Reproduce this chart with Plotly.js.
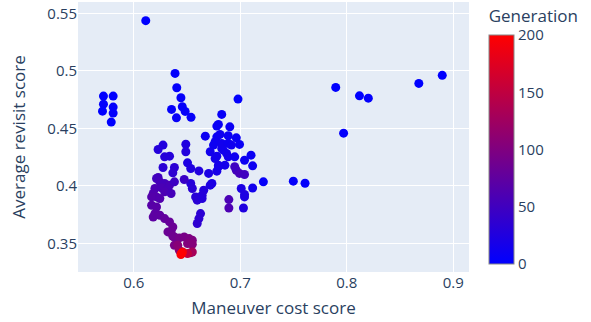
<!DOCTYPE html>
<html>
<head>
<meta charset="utf-8">
<script src="https://cdn.plot.ly/plotly-3.0.1.min.js"></script>
<style>
  html, body { margin: 0; padding: 0; background: #fff; }
  #chart { width: 591px; height: 322px; }
</style>
</head>
<body>
<div id="chart"></div>
<script>
// Candidate solutions: maneuver cost vs. average revisit, coloured by generation
const maneuverCost = [
  0.5716, 0.5716, 0.5707, 0.5807, 0.5807, 0.5807, 0.5789, 0.6113,
  0.6388, 0.6404, 0.6443, 0.6355, 0.6456, 0.6483, 0.6401, 0.6538,
  0.7896, 0.8119, 0.8202, 0.7970, 0.8676, 0.8896, 0.7498, 0.7608, 0.6979, 0.7217,
  0.6826, 0.6795, 0.6780, 0.6902, 0.6672, 0.6780, 0.6810, 0.6887, 0.6963, 0.6764,
  0.6749, 0.6826, 0.6887, 0.6917, 0.6993, 0.6718, 0.6826, 0.6841, 0.6872, 0.6887,
  0.6948, 0.7040, 0.7101, 0.6764, 0.6780, 0.6795, 0.6856, 0.7116, 0.6780, 0.6795,
  0.6734, 0.7009, 0.7040, 0.7040, 0.7116, 0.7030,
  0.6963, 0.6993, 0.7040, 0.6948, 0.6893, 0.6893,
  0.6505, 0.6535, 0.6612, 0.6703, 0.6718, 0.6535, 0.6550, 0.6657, 0.6642, 0.6581,
  0.6596, 0.6642, 0.6627, 0.6612, 0.6596,
  0.6275, 0.6229, 0.6489, 0.6489, 0.6290, 0.6336, 0.6275, 0.6382, 0.6367,
  0.6474, 0.6229, 0.6214, 0.6245, 0.6290, 0.6336, 0.6382, 0.6199, 0.6260, 0.6320,
  0.6183, 0.6290, 0.6351, 0.6214, 0.6168, 0.6245,
  0.6168, 0.6214, 0.6199, 0.6245, 0.6183, 0.6290, 0.6336, 0.6367, 0.6351, 0.6321,
  0.6382, 0.6367, 0.6382, 0.6428, 0.6474, 0.6520, 0.6550, 0.6505, 0.6550, 0.6413,
  0.6428,
  0.6535, 0.6550, 0.6505,
  0.6459, 0.6443, 0.6450
];
const revisitScore = [
  0.4781, 0.4711, 0.4650, 0.4781, 0.4685, 0.4633, 0.4555, 0.5436,
  0.4978, 0.4853, 0.4766, 0.4665, 0.4688, 0.4648, 0.4592, 0.4596,
  0.4856, 0.4783, 0.4763, 0.4459, 0.4891, 0.4961, 0.4042, 0.4024, 0.4755, 0.4036,
  0.4622, 0.4535, 0.4520, 0.4514, 0.4433, 0.4427, 0.4448, 0.4436, 0.4418, 0.4384,
  0.4355, 0.4370, 0.4370, 0.4355, 0.4361, 0.4297, 0.4326, 0.4311, 0.4283, 0.4253,
  0.4253, 0.4224, 0.4268, 0.4239, 0.4259, 0.4181, 0.4181, 0.4175, 0.4129, 0.4167,
  0.4022, 0.3978, 0.3926, 0.3905, 0.3983, 0.3809,
  0.4137, 0.4109, 0.4100, 0.4167, 0.3882, 0.3809,
  0.4201, 0.4152, 0.4131, 0.4109, 0.4007, 0.4022, 0.3978, 0.3963, 0.3920, 0.3905,
  0.3877, 0.3891, 0.3760, 0.3717, 0.3674,
  0.4355, 0.4317, 0.4363, 0.4297, 0.4253, 0.4259, 0.4161, 0.4161, 0.4114,
  0.4056, 0.4074, 0.4065, 0.4036, 0.4022, 0.4007, 0.4036, 0.3978, 0.3985, 0.3975,
  0.3935, 0.3949, 0.3935, 0.3905, 0.3905, 0.3891,
  0.3833, 0.3818, 0.3760, 0.3746, 0.3731, 0.3717, 0.3688, 0.3644, 0.3601, 0.3601,
  0.3557, 0.3563, 0.3485, 0.3549, 0.3557, 0.3543, 0.3529, 0.3500, 0.3494, 0.3485,
  0.3441,
  0.3421, 0.3427, 0.3413,
  0.3427, 0.3405, 0.3415
];
const generation = [
  1, 2, 0, 1, 3, 2, 0, 0,
  2, 3, 4, 3, 5, 4, 6, 5,
  1, 0, 2, 3, 0, 1, 4, 3, 2, 5,
  6, 8, 7, 9, 10, 8, 11, 9, 7, 12,
  10, 13, 11, 12, 8, 14, 15, 13, 14, 16,
  12, 10, 9, 17, 15, 18, 16, 11, 19, 17,
  20, 22, 24, 23, 14, 25,
  52, 55, 50, 48, 58, 60,
  22, 24, 26, 21, 23, 30, 32, 27, 29, 31,
  33, 28, 34, 35, 36,
  26, 28, 25, 27, 30, 29, 33, 34, 36,
  45, 50, 52, 55, 53, 57, 48, 60, 58, 56,
  63, 59, 54, 65, 66, 64,
  68, 70, 72, 74, 73, 77, 80, 83, 85, 84,
  88, 87, 95, 92, 94, 97, 99, 102, 104, 106,
  110,
  120, 130, 150,
  185, 195, 200
];

const xTickVals = [0.6, 0.7, 0.8, 0.9];
const yTickVals = [0.35, 0.4, 0.45, 0.5, 0.55];
const genTickVals = [0, 50, 100, 150, 200];

const textColor = '#2a3f5f';

const trace = {
  type: 'scatter',
  mode: 'markers',
  x: maneuverCost,
  y: revisitScore,
  marker: {
    size: 9,
    color: generation,
    cmin: 0,
    cmax: 200,
    colorscale: [[0, 'rgb(0,0,255)'], [1, 'rgb(255,0,0)']],
    showscale: true,
    colorbar: {
      title: { text: 'Generation', side: 'top', font: { size: 17, color: textColor } },
      thickness: 25,
      x: 1.026,
      xanchor: 'left',
      y: 0.0148,
      yanchor: 'bottom',
      lenmode: 'pixels',
      len: 265,
      ypad: 4,
      outlinewidth: 1,
      outlinecolor: '#888',
      ticks: '',
      tickvals: genTickVals,
      tickfont: { size: 15, color: textColor }
    }
  },
  hoverinfo: 'x+y'
};

const layout = {
  width: 591,
  height: 322,
  margin: { l: 78, r: 115, t: 2, b: 50 },
  paper_bgcolor: '#ffffff',
  plot_bgcolor: '#E5ECF6',
  font: { family: '"Open Sans", verdana, arial, sans-serif', color: textColor, size: 15 },
  showlegend: false,
  xaxis: {
    range: [0.5477, 0.9147],
    tickvals: xTickVals,
    ticktext: xTickVals.map(String),
    gridcolor: '#ffffff',
    gridwidth: 1,
    zeroline: false,
    showline: false,
    ticks: '',
    tickfont: { size: 15 },
    title: { text: 'Maneuver cost score', font: { size: 17 }, standoff: 11 }
  },
  yaxis: {
    range: [0.3253, 0.5598],
    tickvals: yTickVals,
    ticktext: yTickVals.map(String),
    gridcolor: '#ffffff',
    gridwidth: 1,
    zeroline: false,
    showline: false,
    ticks: '',
    tickfont: { size: 15 },
    title: { text: 'Average revisit score', font: { size: 17 }, standoff: 17 }
  }
};

Plotly.newPlot('chart', [trace], layout, { displayModeBar: false, staticPlot: true });
</script>
</body>
</html>
